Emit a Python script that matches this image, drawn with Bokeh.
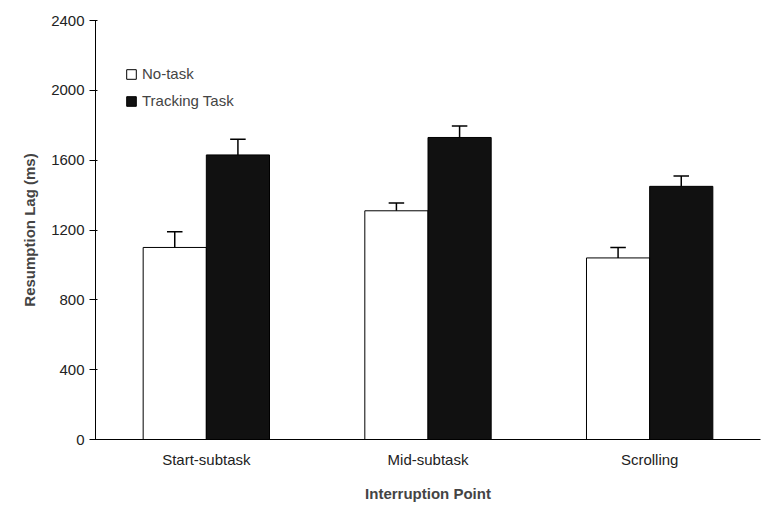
from bokeh.plotting import figure
from bokeh.models import Range1d, FixedTicker, Legend, LegendItem
from bokeh.embed import file_html
from bokeh.resources import INLINE

categories = ["Start-subtask", "Mid-subtask", "Scrolling"]
no_task = [1100, 1310, 1040]
no_task_err = [90, 45, 60]
tracking = [1630, 1730, 1450]
tracking_err = [90, 65, 60]

centers = [i + 0.5 for i in range(len(categories))]
w = 0.285

p = figure(width=764, height=505, x_range=Range1d(0, 3), y_range=Range1d(0, 2400),
           output_backend="svg", toolbar_location=None,
           min_border_left=95, min_border_right=4, min_border_top=20, min_border_bottom=66)
p.outline_line_color = None
p.grid.visible = False

xa = [c - w / 2 for c in centers]
xb = [c + w / 2 for c in centers]
r1 = p.vbar(x=xa, top=no_task, width=w, fill_color="white", line_color="black", line_width=1)
r2 = p.vbar(x=xb, top=tracking, width=w, fill_color="#111111", line_color="black", line_width=1)

for xs, vals, errs in [(xa, no_task, no_task_err), (xb, tracking, tracking_err)]:
    tops = [v + e for v, e in zip(vals, errs)]
    p.segment(x0=xs, y0=vals, x1=xs, y1=tops, line_color="black", line_width=1.5)
    p.segment(x0=[x - 0.035 for x in xs], y0=tops, x1=[x + 0.035 for x in xs], y1=tops,
              line_color="black", line_width=1.5)

p.yaxis.ticker = FixedTicker(ticks=list(range(0, 2401, 400)))
p.yaxis.minor_tick_line_color = None
p.xaxis.ticker = FixedTicker(ticks=centers)
p.xaxis.major_label_overrides = {c: n for c, n in zip(centers, categories)}
p.xaxis.major_tick_line_color = None
p.xaxis.minor_tick_line_color = None
p.yaxis.axis_label = "Resumption Lag (ms)"
p.xaxis.axis_label = "Interruption Point"
for ax in (p.xaxis, p.yaxis):
    ax.axis_label_text_font = "Liberation Sans"
    ax.axis_label_text_font_style = "bold"
    ax.axis_label_text_font_size = "15px"
    ax.major_label_text_font = "Liberation Sans"
    ax.major_label_text_font_size = "15px"
    ax.major_label_text_color = "#222222"
p.xaxis.axis_label_standoff = 14
p.yaxis.axis_label_standoff = 10

legend = Legend(items=[LegendItem(label="No-task", renderers=[r1]),
                       LegendItem(label="Tracking Task", renderers=[r2])],
                location=(30, 330), border_line_color=None, background_fill_alpha=0,
                label_text_font="Liberation Sans", label_text_font_size="15px",
                glyph_width=12, glyph_height=12, spacing=10)
p.add_layout(legend, "center")

open("out.html", "w").write(file_html(p, INLINE))
